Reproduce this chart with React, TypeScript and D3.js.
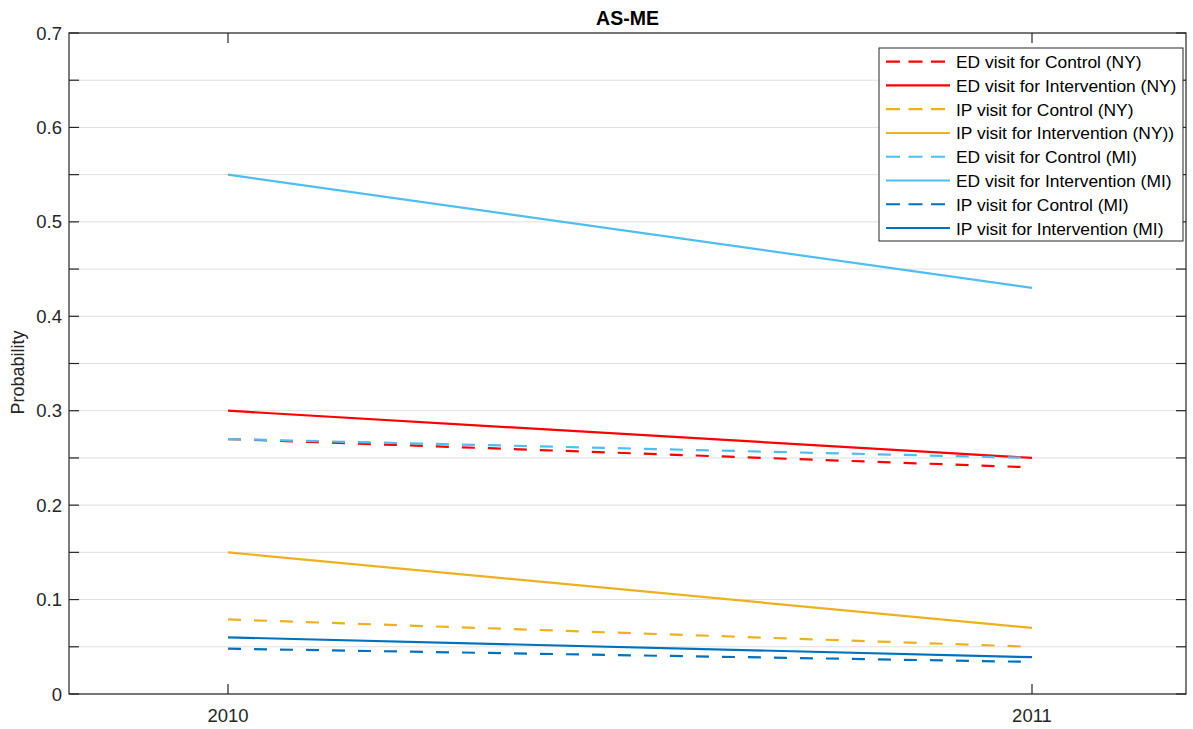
import React from "react";
import * as d3 from "d3";

const years = [2010, 2011];
const seriesNames = [
  "ED visit for Control (NY)",
  "ED visit for Intervention (NY)",
  "IP visit for Control (NY)",
  "IP visit for Intervention (NY))",
  "ED visit for Control (MI)",
  "ED visit for Intervention (MI)",
  "IP visit for Control (MI)",
  "IP visit for Intervention (MI)",
];
const edControlNY = [0.27, 0.24];
const edInterventionNY = [0.3, 0.25];
const ipControlNY = [0.079, 0.05];
const ipInterventionNY = [0.15, 0.07];
const edControlMI = [0.27, 0.25];
const edInterventionMI = [0.55, 0.43];
const ipControlMI = [0.048, 0.034];
const ipInterventionMI = [0.06, 0.039];
const yTicks = [0, 0.1, 0.2, 0.3, 0.4, 0.5, 0.6, 0.7];
const yGrid = d3.range(0, 0.7001, 0.05);

const seriesValues = [
  edControlNY, edInterventionNY, ipControlNY, ipInterventionNY,
  edControlMI, edInterventionMI, ipControlMI, ipInterventionMI,
];
const colors = ["#FF0000", "#FF0000", "#EDB120", "#EDB120", "#4DBEEE", "#4DBEEE", "#0072BD", "#0072BD"];
const dashed = [true, false, true, false, true, false, true, false];

export default function App() {
  const W = 1193, H = 729;
  const left = 69, right = 1186, top = 33, bottom = 694;
  const x = d3.scaleLinear().domain([2010 - 159 / 804, 2011 + 154 / 804]).range([left, right]);
  const y = d3.scaleLinear().domain([0, 0.7]).range([bottom, top]);
  const line = d3.line<number>().x((_, i) => x(years[i])).y((d) => y(d));
  const font = "'Liberation Sans', Arial, Helvetica, sans-serif";
  const axisColor = "#262626";
  const legX = 879, legY = 48, legW = 304, legH = 193, rowH = 23.76;
  return (
    <svg width={W} height={H} style={{ position: "absolute", left: 0, top: 0, background: "#fff" }} fontFamily={font}>
      <rect x={0} y={0} width={W} height={H} fill="#fff" />
      {yGrid.map((v) => (
        <line key={"g" + v} x1={left} x2={right} y1={y(v)} y2={y(v)} stroke="#dfdfdf" strokeWidth={1} />
      ))}
      {seriesValues.map((vals, i) => (
        <path key={"s" + i} d={line(vals) || ""} fill="none" stroke={colors[i]} strokeWidth={2.2}
          strokeDasharray={dashed[i] ? "13,13" : undefined} />
      ))}
      <rect x={left} y={top} width={right - left} height={bottom - top} fill="none" stroke={axisColor} strokeWidth={1.2} />
      {yGrid.map((v) => (
        <g key={"t" + v}>
          <line x1={left} x2={left + 10} y1={y(v)} y2={y(v)} stroke={axisColor} strokeWidth={1.2} />
          <line x1={right - 10} x2={right} y1={y(v)} y2={y(v)} stroke={axisColor} strokeWidth={1.2} />
        </g>
      ))}
      {yTicks.map((v) => (
        <text key={"yl" + v} x={left - 7} y={y(v) + 6.5} textAnchor="end" fontSize={18.5} fill={axisColor}>
          {d3.format("")(+v.toFixed(1))}
        </text>
      ))}
      {years.map((yr) => (
        <g key={"x" + yr}>
          <line x1={x(yr)} x2={x(yr)} y1={bottom} y2={bottom - 10} stroke={axisColor} strokeWidth={1.2} />
          <line x1={x(yr)} x2={x(yr)} y1={top} y2={top + 10} stroke={axisColor} strokeWidth={1.2} />
          <text x={x(yr)} y={bottom + 28} textAnchor="middle" fontSize={18.5} fill={axisColor}>{yr}</text>
        </g>
      ))}
      <text x={(left + right) / 2} y={25} textAnchor="middle" fontSize={19.5} fontWeight="bold" fill="#000">AS-ME</text>
      <text transform={`translate(24,${(top + bottom) / 2 + 9}) rotate(-90)`} textAnchor="middle" fontSize={18} fill={axisColor}>Probability</text>
      <rect x={legX} y={legY} width={legW} height={legH} fill="#fff" stroke={axisColor} strokeWidth={1} />
      {seriesNames.map((name, i) => {
        const cy = legY + 13.7 + i * rowH;
        return (
          <g key={"l" + i}>
            <line x1={legX + 7} x2={legX + 71} y1={cy} y2={cy} stroke={colors[i]} strokeWidth={2.2}
              strokeDasharray={dashed[i] ? "14,8.5" : undefined} />
            <text x={legX + 77} y={cy + 6.5} fontSize={17.4} fill="#000">{name}</text>
          </g>
        );
      })}
    </svg>
  );
}
